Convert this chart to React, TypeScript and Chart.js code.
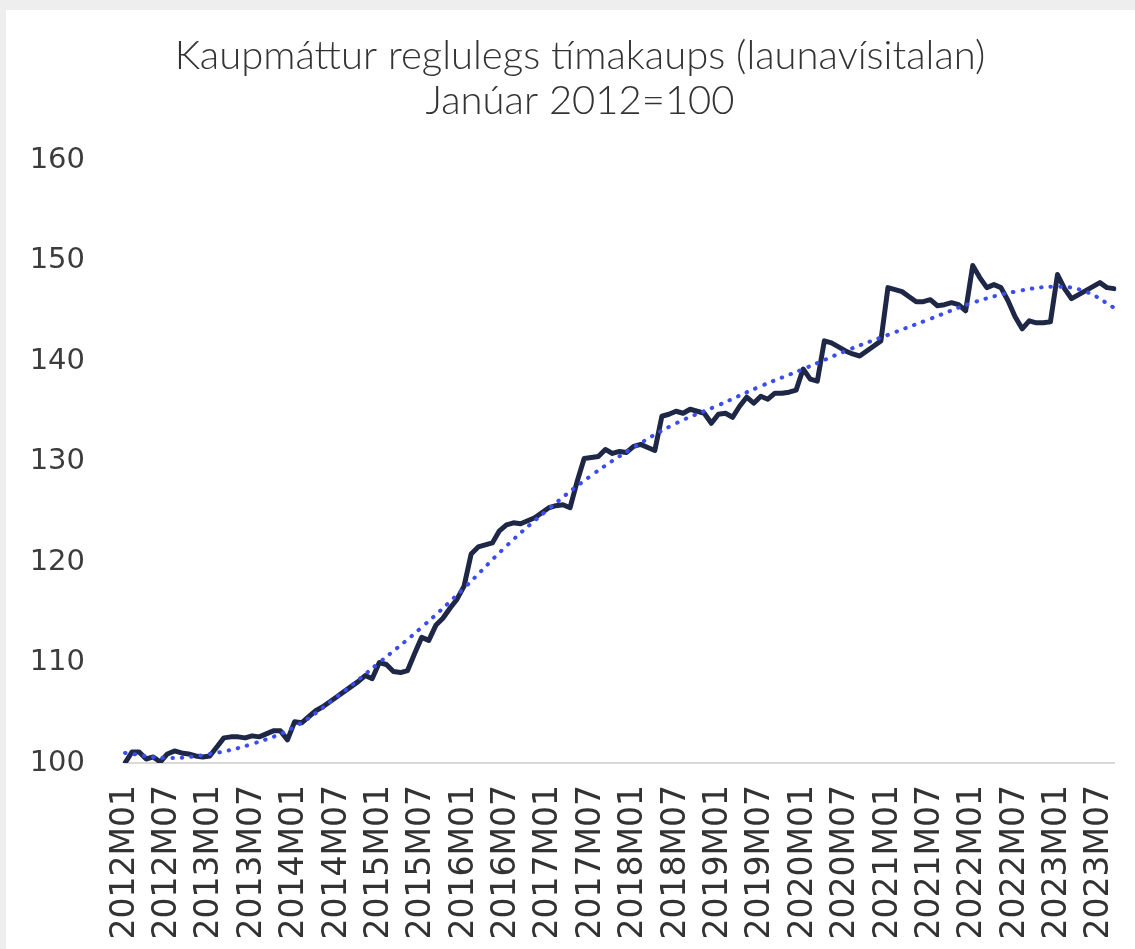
import React, { useEffect, useRef } from 'react';
import { Chart, registerables } from 'chart.js';

Chart.register(...registerables);

// Monthly categories 2012M01 .. 2023M09
const startYear = 2012;
const monthCount = 141;
const categories: string[] = [];
for (let i = 0; i < monthCount; i++) {
  const y = startYear + Math.floor(i / 12);
  const m = (i % 12) + 1;
  categories.push(`${y}M${m < 10 ? '0' + m : m}`);
}

const titleLines = ['Kaupmáttur reglulegs tímakaups (launavísitalan)', 'Janúar 2012=100'];

// Kaupmáttur (index, January 2012 = 100)
const kaupmattur = [
  100.0, 101.1, 101.1, 100.4, 100.6, 100.1, 100.9, 101.2, 101.0, 100.9, 100.7, 100.6,
  100.7, 101.6, 102.5, 102.6, 102.6, 102.5, 102.7, 102.6, 102.9, 103.2, 103.2, 102.3,
  104.1, 104.0, 104.6, 105.2, 105.6, 106.1, 106.6, 107.1, 107.6, 108.1, 108.7, 108.4,
  110.0, 109.8, 109.1, 109.0, 109.2, 110.9, 112.5, 112.2, 113.7, 114.4, 115.4, 116.3,
  117.6, 120.8, 121.5, 121.7, 121.9, 123.1, 123.7, 123.9, 123.8, 124.1, 124.4, 124.9,
  125.4, 125.6, 125.7, 125.4, 128.0, 130.3, 130.4, 130.5, 131.2, 130.8, 131.0, 130.9,
  131.5, 131.7, 131.4, 131.1, 134.5, 134.7, 135.0, 134.8, 135.2, 135.0, 134.8, 133.8,
  134.7, 134.8, 134.4, 135.5, 136.4, 135.8, 136.5, 136.2, 136.8, 136.8, 136.9, 137.1,
  139.2, 138.2, 138.0, 142.0, 141.8, 141.4, 141.0, 140.7, 140.5, 141.0, 141.5, 142.0,
  147.3, 147.1, 146.9, 146.4, 145.9, 145.9, 146.1, 145.5, 145.6, 145.8, 145.6, 145.0,
  149.5, 148.3, 147.3, 147.6, 147.3, 146.0, 144.4, 143.2, 144.0, 143.8, 143.8, 143.9,
  148.6, 147.2, 146.2, 146.6, 147.0, 147.4, 147.8, 147.3, 147.2,
];

// Trend line (polynomial trend in the original), read at these months
const trendMonthIndex = [0, 6, 12, 18, 24, 30, 36, 42, 48, 54, 60, 66, 72, 78, 84, 90, 96, 102, 108, 114, 120, 126, 132, 136, 140];
const trendValues = [101.0, 100.5, 100.9, 101.9, 103.6, 106.6, 110.0, 113.5, 117.4, 121.6, 125.3, 128.6, 131.4, 133.8, 135.6, 137.5, 139.2, 141.0, 142.6, 144.2, 145.8, 146.9, 147.4, 146.9, 145.3];

const yMin = 100;
const yMax = 160;
const yStep = 10;
const xLabelEvery = 6;

const W = 1135;
const H = 949;

export default function App() {
  const ref = useRef<HTMLCanvasElement | null>(null);

  useEffect(() => {
    const canvas = ref.current;
    if (!canvas) return;
    const trendData: (number | null)[] = categories.map(() => null);
    trendMonthIndex.forEach((idx, k) => {
      trendData[idx] = trendValues[k];
    });

    const bgPlugin = {
      id: 'bgFrame',
      beforeDraw(chart: any) {
        const ctx = chart.ctx;
        ctx.save();
        ctx.fillStyle = '#eeeeee';
        ctx.fillRect(0, 0, chart.width, chart.height);
        ctx.fillStyle = '#ffffff';
        ctx.fillRect(6, 10, chart.width - 6, chart.height - 10);
        ctx.restore();
      },
    };

    const titlePlugin = {
      id: 'twoLineTitle',
      afterDraw(chart: any) {
        const ctx = chart.ctx;
        ctx.save();
        ctx.fillStyle = '#333333';
        ctx.font = '300 40px Lato';
        ctx.textAlign = 'center';
        ctx.textBaseline = 'middle';
        ctx.fillText(titleLines[0], 580, 56);
        ctx.fillText(titleLines[1], 580, 101);
        ctx.restore();
      },
    };

    const chart = new Chart(canvas, {
      type: 'line',
      data: {
        labels: categories,
        datasets: [
          {
            label: 'Kaupmáttur',
            data: kaupmattur,
            borderColor: '#1e2846',
            borderWidth: 5,
            borderJoinStyle: 'round',
            borderCapStyle: 'round',
            pointRadius: 0,
            tension: 0,
            fill: false,
            order: 2,
          },
          {
            label: 'Leitni',
            data: trendData,
            borderColor: '#3b4cf2',
            borderWidth: 4,
            borderDash: [0.5, 9],
            borderCapStyle: 'round',
            pointRadius: 0,
            spanGaps: true,
            tension: 0.4,
            fill: false,
            order: 1,
          },
        ],
      },
      options: {
        responsive: false,
        animation: false,
        devicePixelRatio: 1,
        layout: { padding: { left: 0, right: 21, top: 160, bottom: 0 } },
        plugins: {
          legend: { display: false },
          tooltip: { enabled: false },
          title: { display: false },
        },
        scales: {
          x: {
            type: 'category',
            offset: false,
            grid: { display: false, drawTicks: false },
            border: { display: true, color: '#d9d9d9', width: 2 },
            ticks: {
              autoSkip: false,
              minRotation: 90,
              maxRotation: 90,
              padding: 22,
              color: '#333333',
              font: { family: 'DejaVu Sans', size: 33 },
              callback: (_v: any, i: number) => (i % xLabelEvery === 0 ? categories[i] : ''),
            },
            afterFit: (scale: any) => {
              scale.height = 186;
              scale.paddingLeft = 0;
              scale.paddingRight = 0;
            },
          },
          y: {
            min: yMin,
            max: yMax,
            grid: { display: false, drawTicks: false },
            border: { display: false },
            ticks: {
              stepSize: yStep,
              padding: 40,
              color: '#3c3c3c',
              font: { family: 'DejaVu Sans', size: 29 },
            },
            afterFit: (scale: any) => {
              scale.width = 125;
              scale.paddingTop = 0;
              scale.paddingBottom = 0;
            },
          },
        },
      },
      plugins: [bgPlugin, titlePlugin],
    });
    return () => chart.destroy();
  }, []);

  return (
    <div style={{ position: 'absolute', left: 0, top: 0, width: W, height: H, overflow: 'hidden' }}>
      <canvas ref={ref} width={W} height={H} style={{ display: 'block', width: W, height: H }} />
    </div>
  );
}
